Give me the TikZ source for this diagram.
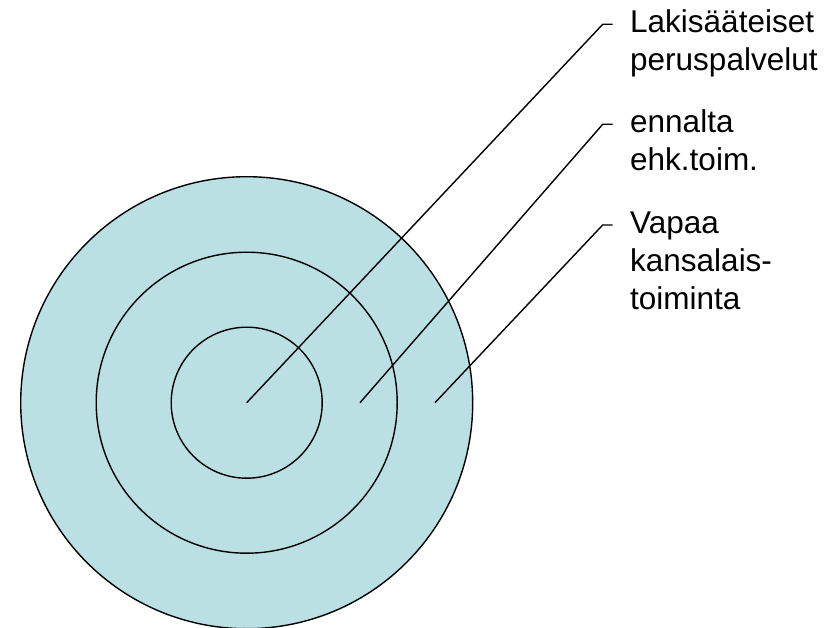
\documentclass[tikz,border=0pt]{standalone}
\usepackage{fontspec}
\setmainfont{Liberation Sans}
\definecolor{ringfill}{RGB}{187,224,227}
\begin{document}
\begin{tikzpicture}[x=1pt,y=-1pt,
  ring/.style={circle,draw=black,line width=1.4pt,inner sep=0pt,fill=ringfill},
  leader/.style={draw=black,line width=1.4pt},
  lbl/.style={anchor=base west,inner sep=0pt,align=left,
    font=\fontsize{31.5}{37.8}\selectfont}]
\useasboundingbox (0,0) rectangle (838,628);
\node[ring,minimum size=452pt] (outer) at (246.7,402.7) {};
\node[ring,minimum size=301pt] (middle) at (246.7,402.7) {};
\node[ring,minimum size=151pt] (inner) at (246.7,402.7) {};
\coordinate (p1) at (246.7,402.7);
\coordinate (p2) at (360,402.7);
\coordinate (p3) at (435,402.7);
\coordinate (k1) at (602.7,24.3);
\coordinate (k2) at (602.7,124.3);
\coordinate (k3) at (602.7,225);
\coordinate (t1) at (612.7,24.3);
\coordinate (t2) at (612.7,124.3);
\coordinate (t3) at (612.7,225);
% base anchor of a multi-line node is the last line's baseline
\node[lbl] (l1) at (630,70.8) {Lakisääteiset\\peruspalvelut};
\node[lbl] (l2) at (630,170.8) {ennalta\\ehk.toim.};
\node[lbl] (l3) at (630,309) {Vapaa\\kansalais-\\toiminta};
\draw[leader] (p1) -- (k1) -- (t1);
\draw[leader] (p2) -- (k2) -- (t2);
\draw[leader] (p3) -- (k3) -- (t3);
\end{tikzpicture}
\end{document}
